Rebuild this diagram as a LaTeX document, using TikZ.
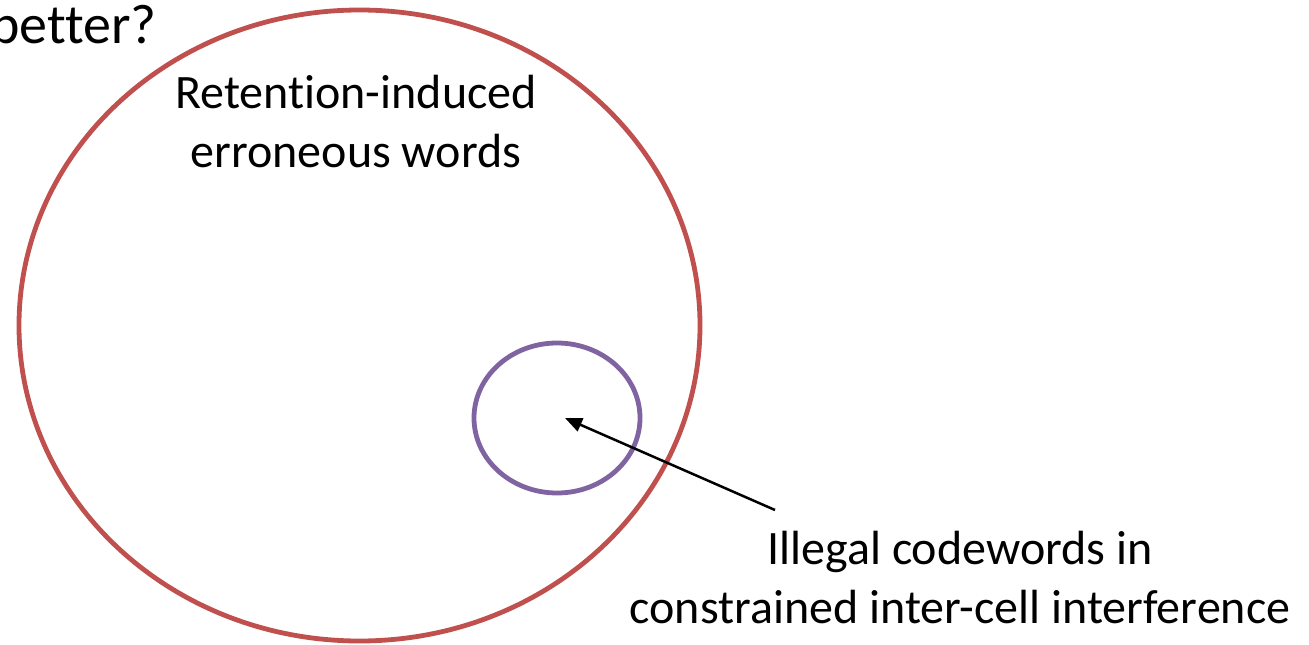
\documentclass[tikz,border=0pt]{standalone}
\usepackage{fontspec}
\setmainfont{Carlito}[Ligatures=NoCommon]
\usetikzlibrary{shapes.geometric,arrows.meta}
\definecolor{setred}{HTML}{C0504D}
\definecolor{setpurple}{HTML}{8064A2}
\tikzset{
  setring/.style={ellipse, draw, line width=4.8pt, inner sep=0pt, minimum width=#1},
  lbl/.style={inner sep=0pt, anchor=base, font=\fontsize{48}{59}\selectfont},
  pointer/.style={line width=2.5pt, -{Triangle[length=17pt,width=14pt]}}
}
\begin{document}
\begin{tikzpicture}[x=1pt,y=-1pt]
\useasboundingbox (0,0) rectangle (1309,645);
\node[setring=681pt, minimum height=631pt, draw=setred] (retention) at (359.5,325.5) {};
\node[setring=166pt, minimum height=150pt, draw=setpurple] (illegal) at (557,418) {};
\node[lbl] (rtext) at (356,108) {\begin{tabular}[t]{@{}c@{}}Retention-induced\\erroneous words\end{tabular}};
\node[lbl] (itext) at (960,564) {\begin{tabular}[t]{@{}c@{}}Illegal codewords in\\constrained inter-cell interference\end{tabular}};
\node[inner sep=0pt, anchor=base east, font=\fontsize{56}{60}\selectfont] (better) at (157,43) {better?};
\coordinate (tail) at (775,510);
\coordinate (tip) at (565,418);
\draw[pointer] (tail) -- (tip);
\end{tikzpicture}
\end{document}
